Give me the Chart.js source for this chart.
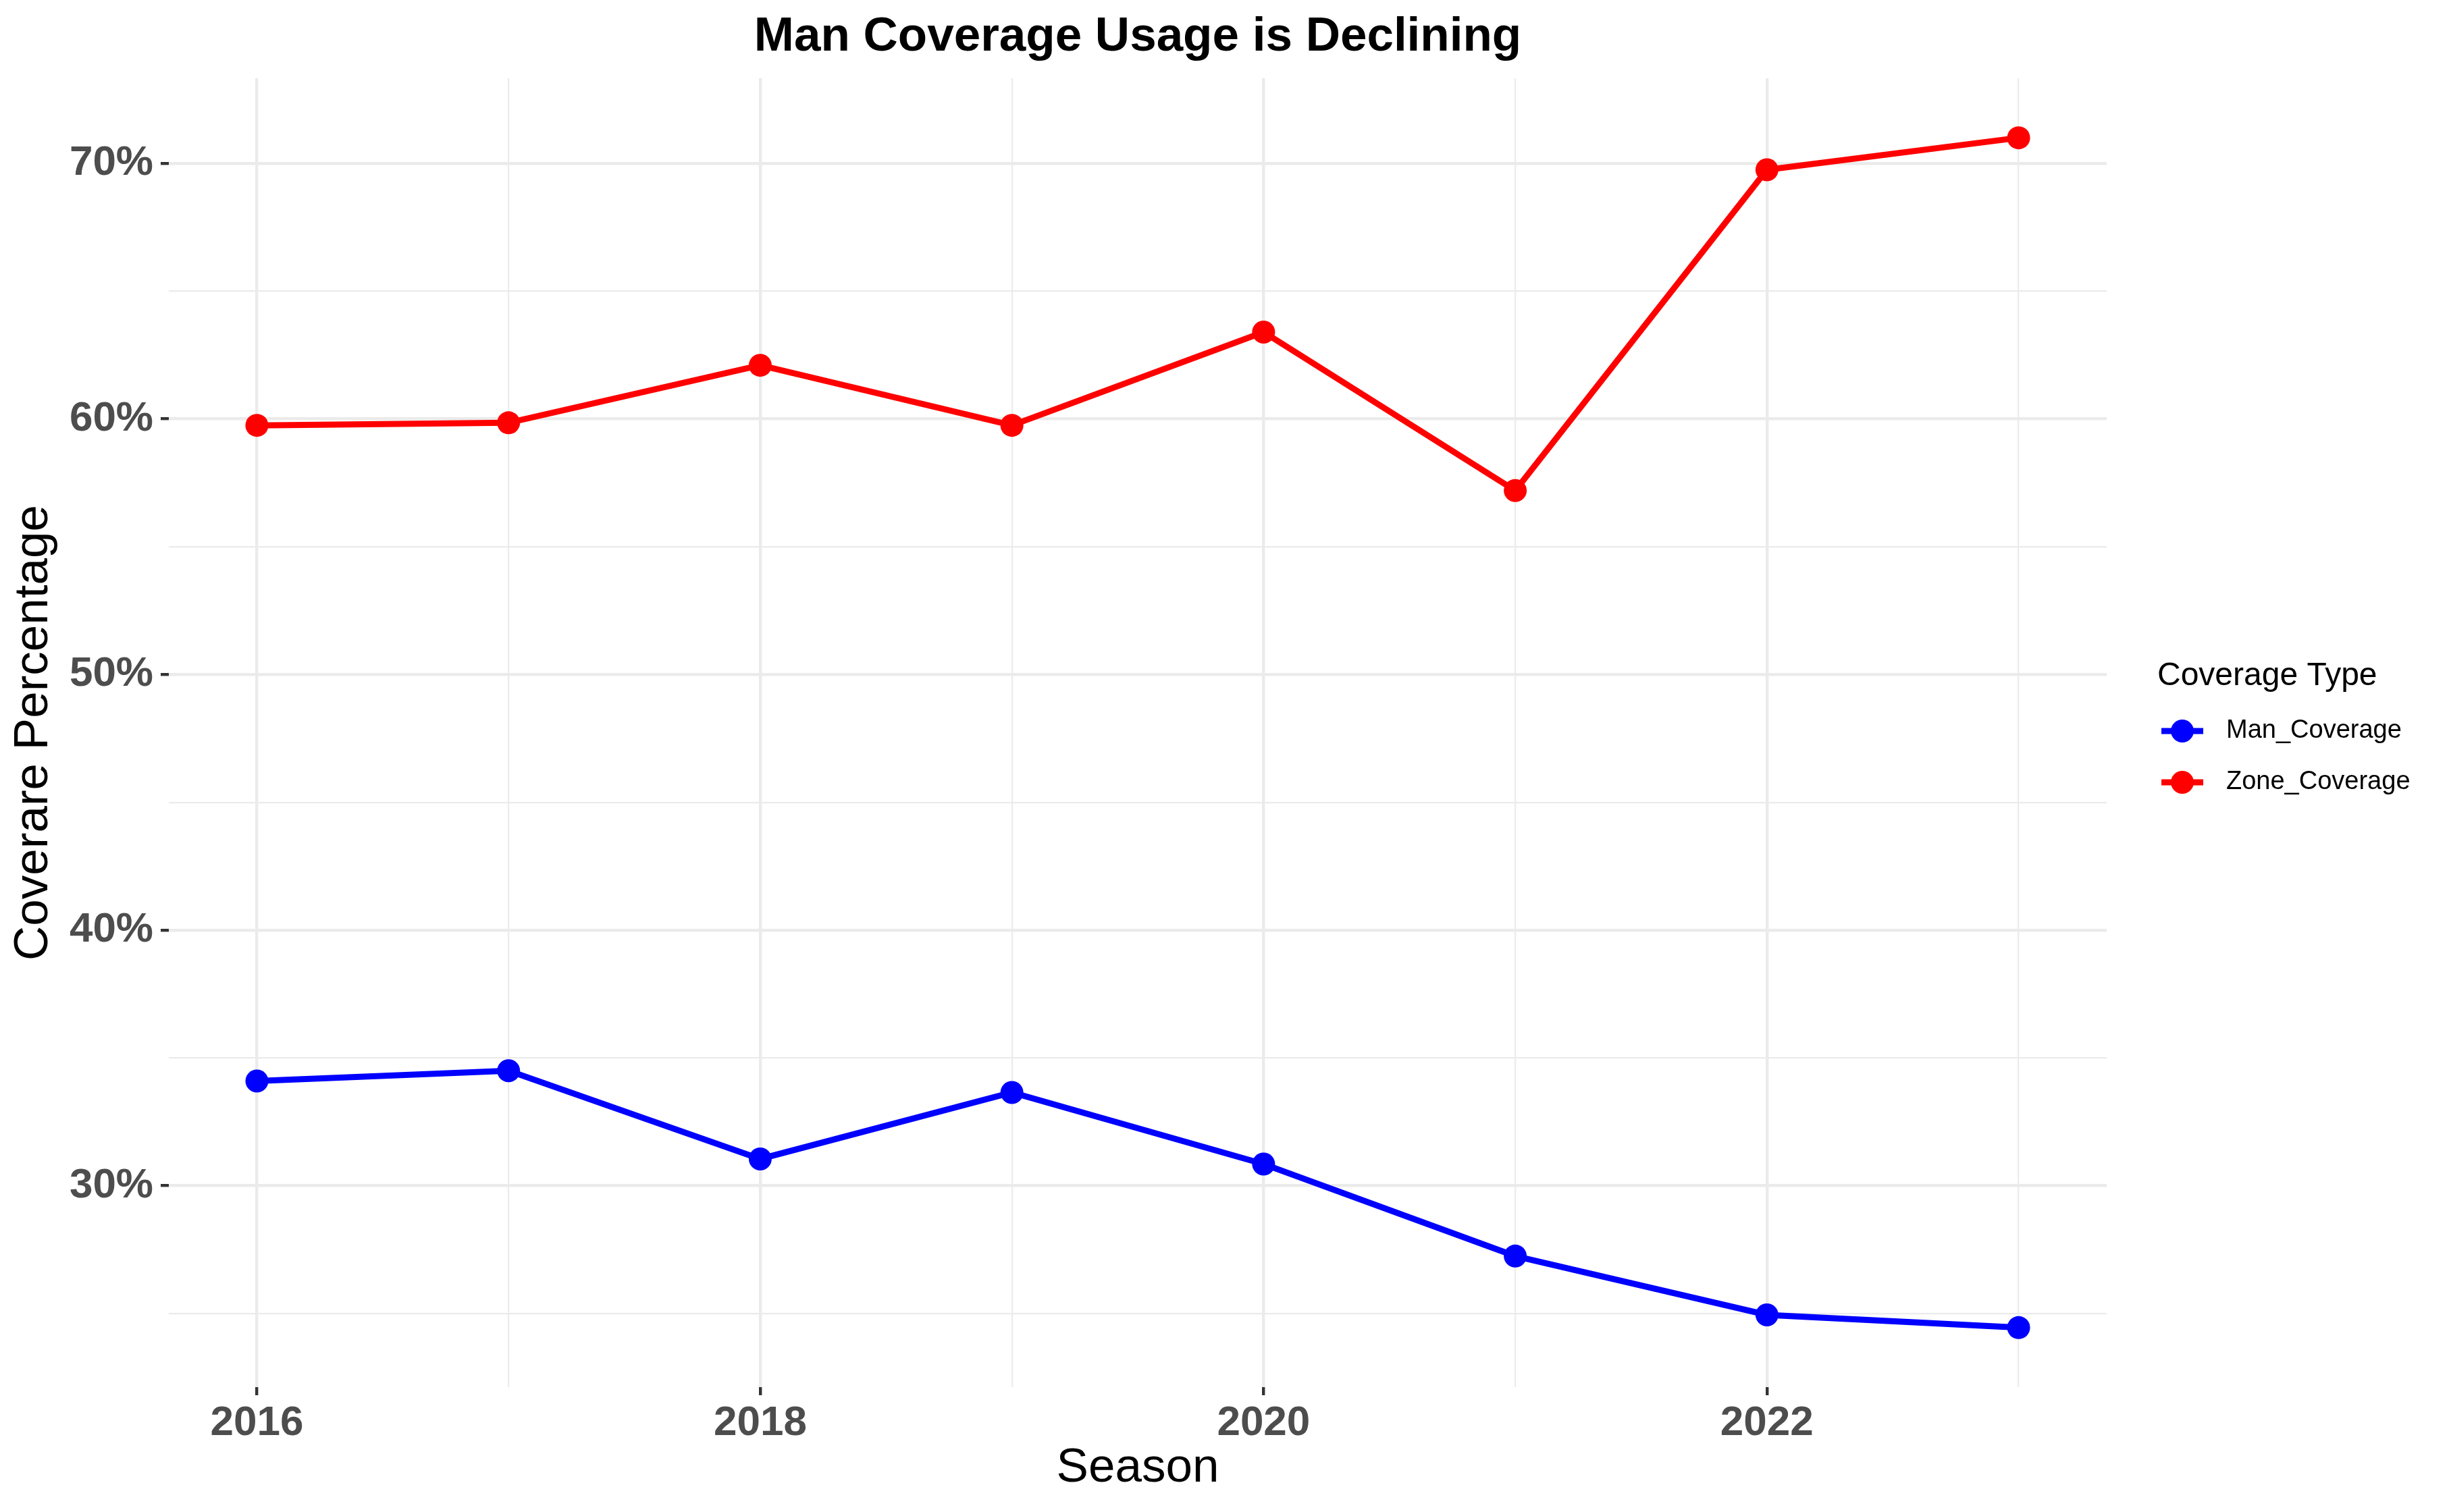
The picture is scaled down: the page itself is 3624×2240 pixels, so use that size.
<!DOCTYPE html>
<html><head><meta charset="utf-8">
<script src="https://cdn.jsdelivr.net/npm/chart.js@4.4.1/dist/chart.umd.min.js"></script>
<style>html,body{margin:0;padding:0;background:#fff;overflow:hidden}canvas{display:block}</style>
</head><body>
<canvas id="c" width="3624" height="2240" style="width:3624px;height:2240px"></canvas>
<script>
// ---- data ----
const seasons = [2016, 2017, 2018, 2019, 2020, 2021, 2022, 2023];
const manCoverage = [34.1, 34.5, 31.05, 33.65, 30.85, 27.25, 24.95, 24.45];
const zoneCoverage = [59.75, 59.85, 62.1, 59.75, 63.4, 57.2, 69.75, 71.0];
const seriesNames = ['Man_Coverage', 'Zone_Coverage'];
const seriesColors = ['#0000FF', '#FF0000'];
const xTickLabels = [2016, 2018, 2020, 2022];
const yTickLabels = [30, 40, 50, 60, 70];
const chartTitle = 'Man Coverage Usage is Declining';
const xTitle = 'Season';
const yTitle = 'Coverare Percentage';
const legendTitle = 'Coverage Type';

const FONT = "'Liberation Sans', Arial, Helvetica, sans-serif";
Chart.defaults.font.family = FONT;

function pts(vals) { return seasons.map((s, i) => ({x: s, y: vals[i]})); }
const allY = manCoverage.concat(zoneCoverage);
const yLo = Math.min(...allY), yHi = Math.max(...allY);
const yPad = (yHi - yLo) * 0.05;
const xLo = Math.min(...seasons), xHi = Math.max(...seasons);
const xPad = (xHi - xLo) * 0.05;

const LINE_W = 9, PT_R = 17;

const overlay = {
  id: 'overlay',
  afterDraw(chart) {
    const ctx = chart.ctx, a = chart.chartArea;
    ctx.save();
    // title
    ctx.fillStyle = '#000';
    ctx.font = 'bold 71px ' + FONT;
    ctx.textAlign = 'center';
    ctx.textBaseline = 'alphabetic';
    ctx.fillText(chartTitle, (a.left + a.right) / 2, 75);
    // legend
    ctx.textAlign = 'left';
    ctx.font = '48px ' + FONT;
    ctx.fillText(legendTitle, 3195, 1015);
    const rows = [1083, 1159];
    chart.data.datasets.forEach((ds, i) => {
      const y = rows[i];
      ctx.strokeStyle = ds.borderColor;
      ctx.lineWidth = LINE_W;
      ctx.beginPath(); ctx.moveTo(3201, y); ctx.lineTo(3263, y); ctx.stroke();
      ctx.fillStyle = ds.borderColor;
      ctx.beginPath(); ctx.arc(3232, y, PT_R, 0, Math.PI * 2); ctx.fill();
      ctx.fillStyle = '#000';
      ctx.font = '38px ' + FONT;
      ctx.textBaseline = 'middle';
      ctx.fillText(ds.label, 3297, y);
    });
    ctx.restore();
  }
};

new Chart(document.getElementById('c'), {
  type: 'line',
  data: {
    datasets: [
      {label: seriesNames[0], data: pts(manCoverage), borderColor: seriesColors[0], backgroundColor: seriesColors[0],
       borderWidth: LINE_W, pointRadius: PT_R, pointBorderWidth: 0, pointBackgroundColor: seriesColors[0], tension: 0},
      {label: seriesNames[1], data: pts(zoneCoverage), borderColor: seriesColors[1], backgroundColor: seriesColors[1],
       borderWidth: LINE_W, pointRadius: PT_R, pointBorderWidth: 0, pointBackgroundColor: seriesColors[1], tension: 0}
    ]
  },
  options: {
    responsive: false,
    animation: false,
    devicePixelRatio: 1,
    layout: {padding: {left: 0, right: 504, top: 116, bottom: 0}},
    plugins: {legend: {display: false}, title: {display: false}, tooltip: {enabled: false}},
    scales: {
      x: {
        type: 'linear',
        min: xLo - xPad, max: xHi + xPad,
        border: {display: false},
        afterFit(s) { s.height = 185; },
        grid: {
          color: '#EBEBEB',
          lineWidth: c => xTickLabels.includes(c.tick.value) ? 4.4 : 2.2,
          tickColor: c => xTickLabels.includes(c.tick.value) ? '#333333' : 'rgba(0,0,0,0)',
          tickWidth: 4.4,
          tickLength: 12,
          drawTicks: true
        },
        ticks: {
          stepSize: 1, autoSkip: false, includeBounds: false, maxRotation: 0,
          padding: 5, color: '#4D4D4D',
          font: {size: 62, weight: 'bold', family: FONT},
          callback: v => xTickLabels.includes(v) ? String(v) : ''
        },
        title: {display: true, text: xTitle, color: '#000', font: {size: 71, family: FONT}, padding: {top: 0, bottom: 22}}
      },
      y: {
        type: 'linear',
        min: yLo - yPad, max: yHi + yPad,
        border: {display: false},
        afterFit(s) { s.width = 250; },
        grid: {
          color: '#EBEBEB',
          lineWidth: c => yTickLabels.includes(c.tick.value) ? 4.4 : 2.2,
          tickColor: c => yTickLabels.includes(c.tick.value) ? '#333333' : 'rgba(0,0,0,0)',
          tickWidth: 4.4,
          tickLength: 12,
          drawTicks: true
        },
        ticks: {
          stepSize: 5, autoSkip: false, includeBounds: false,
          padding: 11, color: '#4D4D4D',
          font: {size: 62, weight: 'bold', family: FONT},
          callback: v => yTickLabels.includes(v) ? v + '%' : ''
        },
        title: {display: true, text: yTitle, color: '#000', font: {size: 71, family: FONT}, padding: {top: 8, bottom: 0}}
      }
    }
  },
  plugins: [overlay]
});
</script>
</body></html>
